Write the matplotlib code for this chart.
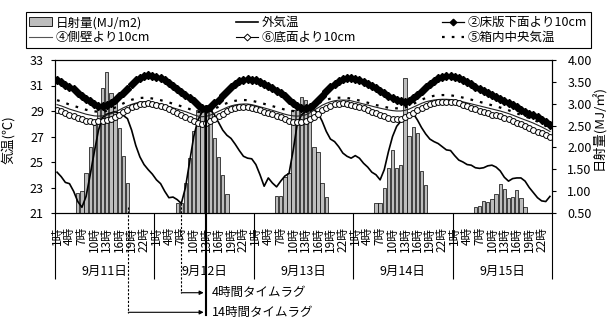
import matplotlib
matplotlib.use('Agg')
import matplotlib.pyplot as plt
import numpy as np
from matplotlib.patches import Patch
from matplotlib.lines import Line2D

plt.rcParams['font.family'] = ['Noto Sans CJK JP', 'DejaVu Sans']

# ---------------- data ----------------
days = ['9月11日', '9月12日', '9月13日', '9月14日', '9月15日']
hour_labels = ['1時', '2時', '3時', '4時', '5時', '6時', '7時', '8時', '9時', '10時', '11時', '12時',
               '13時', '14時', '15時', '16時', '17時', '18時', '19時', '20時', '21時', '22時', '23時', '24時']

# solar radiation (MJ/m2), hourly, per day
rad_0911 = [0, 0, 0, 0, 0, 0.95, 1.01, 1.41, 2.00, 2.51, 2.87, 3.35, 3.72, 3.25, 3.09, 2.45, 1.80, 1.19, 0, 0, 0, 0, 0, 0]
rad_0912 = [0, 0, 0, 0, 0, 0.74, 0.74, 1.18, 1.75, 2.38, 2.86, 2.85, 2.98, 2.95, 2.21, 1.79, 1.38, 0.93, 0, 0, 0, 0, 0, 0]
rad_0913 = [0, 0, 0, 0, 0, 0.89, 0.89, 1.32, 1.41, 2.85, 2.92, 3.15, 3.09, 2.86, 2.02, 1.90, 1.18, 0.87, 0, 0, 0, 0, 0, 0]
rad_0914 = [0, 0, 0, 0, 0, 0.72, 0.74, 1.08, 1.52, 1.94, 1.52, 1.60, 3.58, 2.26, 2.47, 2.32, 1.45, 1.14, 0, 0, 0, 0, 0, 0]
rad_0915 = [0, 0, 0, 0, 0, 0.64, 0.67, 0.78, 0.76, 0.81, 0.93, 1.16, 1.06, 0.84, 0.87, 1.03, 0.84, 0.64, 0, 0, 0, 0, 0, 0]

# outside air temperature (deg C)
t_out = [
    24.2, 23.85, 23.4, 23.3, 22.7, 21.9, 21.45, 22.3, 24.0, 25.8, 27.5, 28.5, 28.75, 28.85, 28.95, 28.8, 28.65, 28.4, 27.5, 26.3, 25.4, 24.8, 24.4, 24.05,
    23.6, 23.3, 22.7, 22.2, 22.25, 22.05, 21.75, 23.0, 25.0, 27.0, 28.3, 28.9, 29.05, 29.1, 28.7, 28.1, 27.5, 27.1, 26.85, 26.4, 25.9, 25.45, 25.3, 25.25,
    24.8, 24.0, 23.1, 23.75, 23.35, 23.05, 23.5, 23.9, 24.1, 25.9, 28.0, 28.7, 28.95, 29.05, 29.1, 28.85, 28.2, 27.4, 26.8, 26.6, 26.2, 25.7, 25.45, 25.3,
    25.5, 25.3, 24.9, 24.6, 24.2, 24.0, 23.6, 24.4, 25.8, 27.0, 27.8, 28.2, 28.5, 28.7, 28.8, 28.3, 27.7, 27.2, 26.8, 26.6, 26.45, 26.2, 25.95, 25.9,
    25.5, 25.15, 25.0, 24.8, 24.75, 24.55, 24.5, 24.55, 24.7, 24.75, 24.6, 24.3, 23.8, 23.5, 23.7, 23.75, 23.75, 23.5, 23.0, 22.6, 22.2, 21.95, 21.9, 22.3,
]
# (2) 10cm below floor slab
t_slab = [
    31.4, 31.25, 31.05, 30.85, 30.7, 30.45, 30.2, 29.98, 29.75, 29.55, 29.4, 29.38, 29.45, 29.65, 29.9, 30.15, 30.45, 30.75, 31.1, 31.4, 31.6, 31.75, 31.8, 31.78,
    31.7, 31.55, 31.4, 31.2, 31.0, 30.75, 30.5, 30.25, 30.0, 29.75, 29.45, 29.2, 29.12, 29.3, 29.6, 29.9, 30.25, 30.6, 30.9, 31.15, 31.35, 31.45, 31.5, 31.45,
    31.42, 31.3, 31.15, 30.98, 30.8, 30.6, 30.38, 30.15, 29.9, 29.65, 29.42, 29.25, 29.2, 29.32, 29.55, 29.85, 30.2, 30.55, 30.88, 31.15, 31.38, 31.52, 31.6, 31.58,
    31.5, 31.4, 31.28, 31.14, 30.98, 30.8, 30.6, 30.4, 30.2, 30.0, 29.85, 29.75, 29.73, 29.82, 30.0, 30.25, 30.55, 30.85, 31.12, 31.38, 31.55, 31.68, 31.74, 31.75,
    31.7, 31.6, 31.45, 31.28, 31.1, 30.92, 30.72, 30.55, 30.38, 30.22, 30.08, 29.95, 29.8, 29.62, 29.45, 29.28, 29.1, 28.95, 28.8, 28.65, 28.5, 28.32, 28.12, 27.92,
]
# (4) 10cm from side wall
t_wall = [
    29.5, 29.4, 29.28, 29.15, 29.05, 28.95, 28.85, 28.75, 28.68, 28.62, 28.6, 28.62, 28.68, 28.78, 28.92, 29.08, 29.25, 29.4, 29.52, 29.62, 29.7, 29.73, 29.72, 29.68,
    29.62, 29.55, 29.45, 29.35, 29.25, 29.15, 29.05, 28.95, 28.83, 28.7, 28.6, 28.55, 28.58, 28.68, 28.82, 28.98, 29.13, 29.28, 29.4, 29.48, 29.53, 29.55, 29.55, 29.5,
    29.42, 29.33, 29.24, 29.15, 29.05, 28.95, 28.85, 28.75, 28.67, 28.62, 28.6, 28.62, 28.7, 28.85, 29.05, 29.25, 29.45, 29.6, 29.72, 29.8, 29.85, 29.86, 29.85, 29.8,
    29.72, 29.63, 29.55, 29.47, 29.38, 29.3, 29.22, 29.15, 29.08, 29.03, 29.0, 29.0, 29.05, 29.15, 29.3, 29.45, 29.6, 29.72, 29.8, 29.86, 29.9, 29.92, 29.92, 29.9,
    29.86, 29.8, 29.72, 29.64, 29.56, 29.48, 29.4, 29.32, 29.24, 29.16, 29.08, 29.0, 28.9, 28.8, 28.68, 28.55, 28.42, 28.3, 28.18, 28.05, 27.9, 27.75, 27.58, 27.4,
]
# (6) 10cm from bottom
t_bottom = [
    29.1, 29.0, 28.85, 28.72, 28.6, 28.48, 28.35, 28.25, 28.2, 28.16, 28.18, 28.25, 28.3, 28.38, 28.5, 28.7, 28.9, 29.1, 29.28, 29.42, 29.52, 29.58, 29.6, 29.55,
    29.5, 29.4, 29.3, 29.15, 29.0, 28.85, 28.7, 28.55, 28.4, 28.2, 28.05, 28.0, 28.05, 28.2, 28.4, 28.6, 28.8, 28.98, 29.12, 29.22, 29.28, 29.3, 29.28, 29.22,
    29.15, 29.05, 28.95, 28.85, 28.75, 28.62, 28.5, 28.38, 28.25, 28.15, 28.1, 28.12, 28.2, 28.35, 28.55, 28.8, 29.05, 29.25, 29.42, 29.52, 29.58, 29.6, 29.58, 29.5,
    29.4, 29.3, 29.2, 29.08, 28.95, 28.82, 28.7, 28.58, 28.48, 28.4, 28.37, 28.4, 28.5, 28.65, 28.85, 29.05, 29.25, 29.42, 29.55, 29.63, 29.68, 29.72, 29.73, 29.72,
    29.68, 29.6, 29.5, 29.38, 29.25, 29.15, 29.02, 28.92, 28.82, 28.72, 28.65, 28.58, 28.48, 28.35, 28.2, 28.08, 27.95, 27.8, 27.65, 27.5, 27.38, 27.25, 27.1, 26.95,
]
# (5) air temperature at box centre
t_center = [
    29.85, 29.75, 29.63, 29.5, 29.4, 29.3, 29.2, 29.1, 29.02, 28.97, 28.95, 28.96, 29.02, 29.12, 29.27, 29.43, 29.6, 29.75, 29.88, 29.97, 30.02, 30.04, 30.03, 29.98,
    29.92, 29.85, 29.76, 29.67, 29.57, 29.47, 29.37, 29.27, 29.15, 29.03, 28.94, 28.9, 28.93, 29.03, 29.17, 29.33, 29.48, 29.62, 29.73, 29.8, 29.85, 29.86, 29.85, 29.8,
    29.73, 29.65, 29.56, 29.47, 29.38, 29.29, 29.2, 29.11, 29.04, 29.0, 28.98, 29.0, 29.08, 29.22, 29.4, 29.58, 29.75, 29.88, 29.97, 30.02, 30.04, 30.04, 30.02, 29.97,
    29.9, 29.82, 29.74, 29.65, 29.56, 29.47, 29.39, 29.32, 29.26, 29.22, 29.21, 29.22, 29.28, 29.4, 29.55, 29.72, 29.88, 30.02, 30.12, 30.19, 30.23, 30.25, 30.25, 30.23,
    30.18, 30.12, 30.05, 29.97, 29.89, 29.8, 29.72, 29.63, 29.54, 29.45, 29.36, 29.27, 29.17, 29.06, 28.94, 28.82, 28.7, 28.58, 28.45, 28.32, 28.17, 28.0, 27.82, 27.64,
]

legend_labels = ['日射量(MJ/m2)', '外気温', '②床版下面より10cm', '④側壁より10cm', '⑥底面より10cm', '⑤箱内中央気温']
lag_texts = ['4時間タイムラグ', '14時間タイムラグ']

# ---------------- figure ----------------
W, H = 608, 322
fig = plt.figure(figsize=(W / 100, H / 100), dpi=100)
L, R, T, B = 55, 552, 60, 213
ax = fig.add_axes([L / W, 1 - B / H, (R - L) / W, (B - T) / H])
ax2 = ax.twinx()
ax.set_zorder(2)
ax2.set_zorder(1)
ax.patch.set_visible(False)

n = 24 * len(days)
x = np.arange(n)
rad_all = rad_0911 + rad_0912 + rad_0913 + rad_0914 + rad_0915

bar_col = '#bdbdbd'
ax2.bar(x, rad_all, width=0.8, color=bar_col, edgecolor='black', linewidth=0.5)
ax2.set_ylim(0.5, 4.0)
ax2.set_yticks(np.arange(0.5, 4.01, 0.5))
ax2.set_yticklabels([f'{v:.2f}' for v in np.arange(0.5, 4.01, 0.5)])

ax.plot(x, t_out, color='black', lw=1.2)
ax.plot(x, t_slab, color='black', lw=1.0, marker='D', markersize=3.6, mfc='black', mec='black')
ax.plot(x, t_wall, color='#222222', lw=0.8)
ax.plot(x, t_bottom, color='black', lw=0.8, marker='o', markersize=4.2, mfc='white', mec='black', mew=0.7)
ax.plot(x, t_center, color='black', lw=1.6, ls=(0, (1.2, 3.2)))

ax.set_ylim(21, 33)
ax.set_yticks(np.arange(21, 33.1, 2))
ax.set_xlim(-0.5, n - 0.5)

for a in (ax, ax2):
    for s in a.spines.values():
        s.set_linewidth(0.8)
        s.set_color('black')
ax.tick_params(axis='y', labelsize=9, length=3, width=0.8, pad=5)
ax2.tick_params(axis='y', labelsize=9, length=3, width=0.8, pad=8)

# hour tick labels (every 3 h)
tick_pos = [d * 24 + h for d in range(len(days)) for h in range(0, 24, 3)]
tick_lab = [hour_labels[h] for d in range(len(days)) for h in range(0, 24, 3)]
ax.set_xticks(tick_pos)
ax.set_xticklabels(tick_lab, rotation=90, fontsize=8.5, va='top', ha='center')
ax.tick_params(axis='x', length=0, pad=10)

xt = ax.get_xaxis_transform()
# day separators and day labels
ax.vlines([d * 24 - 0.5 for d in range(len(days) + 1)], -0.43, 0, transform=xt,
          colors='black', lw=0.8, clip_on=False)
for d, lab in enumerate(days):
    ax.text(d * 24 + 11.5, -0.385, lab, transform=xt, ha='center', va='center', fontsize=9)

ax.set_ylabel('気温(℃)', fontsize=9.5)
ax.yaxis.set_label_coords(-0.08, 0.477)
ax2.set_ylabel('日射量(MJ/㎡)', fontsize=9.5)
ax2.yaxis.set_label_coords(1.081, 0.56)

# time lag annotations
ax.plot([17.2, 17.2], [0.04, -0.654], transform=xt, color='black', lw=0.8, ls=(0, (2, 1.5)), clip_on=False)
ax.plot([30.0, 30.0], [0.065, -0.523], transform=xt, color='black', lw=0.8, ls=(0, (2, 1.5)), clip_on=False)
for xv in (35.6, 36.0):
    ax.plot([xv, xv], [0.693, -0.667], transform=xt, color='black', lw=0.8, clip_on=False)
for x0, yv in ((30.0, -0.521), (17.2, -0.649)):
    ax.annotate('', xy=(35.4, yv), xytext=(x0, yv), xycoords=xt, textcoords=xt,
                arrowprops=dict(arrowstyle='-|>', color='black', lw=0.8, mutation_scale=6,
                                shrinkA=0, shrinkB=0), annotation_clip=False)
ax.text(37.3, -0.521, lag_texts[0], transform=xt, ha='left', va='center', fontsize=9)
ax.text(37.5, -0.649, lag_texts[1], transform=xt, ha='left', va='center', fontsize=9)

# legend
h_rad = Patch(facecolor=bar_col, edgecolor='black', linewidth=0.6)
h_out = Line2D([], [], color='black', lw=1.2)
h_slab = Line2D([], [], color='black', lw=0.9, marker='D', markersize=3.3, mfc='black')
h_wall = Line2D([], [], color='#555555', lw=0.8)
h_bot = Line2D([], [], color='black', lw=0.8, marker='D', markersize=3.5, mfc='white', mew=0.7)
h_cen = Line2D([], [], color='black', lw=1.6, ls=(0, (1.2, 3.2)))
handles = [h_rad, h_wall, h_out, h_bot, h_slab, h_cen]
labels = [legend_labels[0], legend_labels[3], legend_labels[1], legend_labels[4], legend_labels[2], legend_labels[5]]
leg = fig.legend(handles, labels, ncol=3, loc='lower left', mode='expand',
                 bbox_to_anchor=(25.7 / W, 1 - 47.7 / H, (591 - 25.7) / W, 35.4 / H),
                 borderaxespad=0, fontsize=9, frameon=True, fancybox=False, edgecolor='black',
                 framealpha=1, handlelength=1.8, handletextpad=0.3, labelspacing=0.15,
                 borderpad=0.3, numpoints=1, columnspacing=1.0)
leg.get_frame().set_linewidth(0.8)

fig.savefig('out.png', dpi=100, facecolor='white')
